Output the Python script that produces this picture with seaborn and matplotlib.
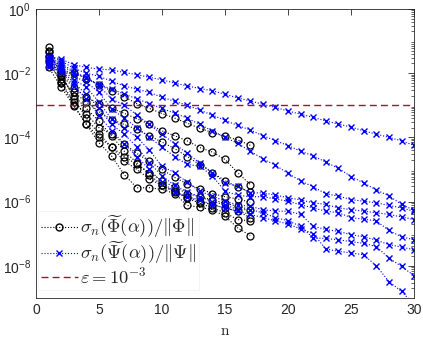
import numpy as np
import pandas as pd
import seaborn as sns
import matplotlib
matplotlib.use('Agg')
import matplotlib.pyplot as plt
from matplotlib.lines import Line2D
from matplotlib.ticker import FixedLocator, FixedFormatter, LogLocator, NullFormatter

# exponents (log10)
n_phi = list(range(1, 18))
phi_1 = [-1.2, -1.94, -2.0, -2.17, -2.37, -2.55, -2.74, -2.95, -3.1, -3.26, -3.4, -3.56, -3.72, -3.85, -3.97, -4.08, -4.25]
phi_2 = [-1.3, -2.06, -2.45, -2.75, -2.95, -3.1, -3.25, -3.42, -3.59, -3.8, -3.95, -4.11, -4.32, -4.46, -4.69, -5.1, -5.47]
phi_3 = [-1.47, -2.19, -2.6, -2.9, -3.2, -3.45, -3.6, -3.75, -3.95, -4.15, -4.35, -4.6, -4.85, -5.1, -5.35, -5.55, -5.7]
phi_4 = [-1.66, -2.28, -2.9, -3.28, -3.7, -3.9, -4.2, -4.5, -4.75, -5.0, -5.25, -5.45, -5.6, -5.75, -5.85, -5.92, -6.02]
phi_5 = [-1.81, -2.44, -3.02, -3.59, -4.0, -4.3, -4.6, -4.84, -5.1, -5.35, -5.55, -5.75, -5.85, -5.95, -6.05, -6.15, -6.25]
phi_6 = [-1.5, -2.1, -2.7, -3.1, -3.5, -3.95, -4.43, -4.79, -5.16, -5.5, -5.7, -5.85, -6.0, -6.1, -6.2, -6.3, -6.5]
phi_7 = [-1.35, -2.0, -2.8, -3.4, -3.9, -4.3, -4.74, -5.0, -5.3, -5.5, -5.68, -5.9, -6.05, -6.2, -6.35, -6.56, -6.6]
phi_8 = [-1.6, -2.3, -3.0, -3.6, -4.17, -4.58, -5.16, -5.57, -5.57, -5.62, -5.75, -6.12, -6.18, -6.25, -6.46, -6.82, -7.06]

n_psi = list(range(1, 31))
psi_1 = [-1.47, -1.56, -1.74, -1.82, -1.875, -1.9, -1.98, -2.05, -2.13, -2.21, -2.31, -2.4, -2.48, -2.55, -2.66,
         -2.77, -2.87, -2.97, -3.07, -3.18, -3.28, -3.38, -3.49, -3.59, -3.68, -3.8, -3.9, -4.0, -4.11, -4.25]
psi_2 = [-1.5, -1.62, -1.85, -2.0, -2.1, -2.25, -2.4, -2.5, -2.6, -2.75, -2.88, -3.0, -3.15, -3.31, -3.47,
         -3.63, -3.77, -3.95, -4.1, -4.26, -4.43, -4.58, -4.77, -4.97, -5.22, -5.42, -5.64, -5.82, -6.09, -6.27]
psi_3 = [-1.55, -1.7, -1.95, -2.15, -2.35, -2.5, -2.65, -2.8, -2.95, -3.1, -3.25, -3.4, -3.6, -3.8, -4.0,
         -4.19, -4.43, -4.67, -4.87, -5.12, -5.36, -5.54, -5.76, -5.83, -5.94, -5.99, -6.04, -6.12, -6.2, -6.3]
psi_4 = [-1.6, -1.75, -2.0, -2.13, -2.4, -2.8, -3.0, -3.3, -3.6, -3.9, -4.2, -4.5, -4.8, -5.1, -5.42,
         -5.52, -5.73, -5.73, -5.8, -5.88, -5.95, -6.04, -6.09, -6.2, -6.25, -6.3, -6.35, -6.4, -6.48, -6.56]
psi_5 = [-1.65, -1.8, -2.1, -2.28, -2.6, -3.12, -3.4, -3.7, -4.0, -4.3, -4.6, -4.84, -4.9, -5.2, -5.68,
         -5.8, -5.85, -5.85, -5.92, -5.99, -6.1, -6.2, -6.3, -6.35, -6.5, -6.55, -6.6, -6.9, -7.1, -7.19]
psi_6 = [-1.7, -1.85, -2.2, -2.44, -2.9, -3.44, -3.7, -4.0, -4.4, -4.9, -5.1, -5.4, -5.68, -5.83, -5.99,
         -6.1, -6.15, -6.25, -6.3, -6.3, -6.4, -6.77, -6.87, -6.93, -7.03, -7.1, -7.2, -7.34, -7.42, -7.5]
psi_7 = [-1.75, -1.9, -2.3, -2.66, -3.1, -3.6, -3.9, -4.3, -4.79, -5.2, -5.5, -5.7, -5.85, -6.0, -6.1,
         -6.25, -6.25, -6.35, -6.5, -6.6, -6.77, -7.13, -7.15, -7.19, -7.25, -7.3, -7.4, -7.76, -8.02, -8.31]
psi_8 = [-1.8, -1.95, -2.4, -2.81, -3.3, -3.8, -4.2, -4.6, -5.0, -5.4, -5.7, -5.85, -5.95, -6.1, -6.2,
         -6.3, -6.4, -6.5, -6.6, -6.7, -6.85, -7.0, -7.48, -7.55, -7.6, -7.66, -8.0, -8.49, -8.8, -9.2]

eps = 1e-3

phi_all = [phi_1, phi_2, phi_3, phi_4, phi_5, phi_6, phi_7, phi_8]
psi_all = [psi_1, psi_2, psi_3, psi_4, psi_5, psi_6, psi_7, psi_8]

rows = []
for k, s in enumerate(phi_all):
    for n, v in zip(n_phi, s):
        rows.append(('phi', k, n, 10.0 ** v))
for k, s in enumerate(psi_all):
    for n, v in zip(n_psi, s):
        rows.append(('psi', k, n, 10.0 ** v))
df = pd.DataFrame(rows, columns=['fam', 'k', 'n', 'val'])

sns.set_style('white')
plt.rcParams['mathtext.fontset'] = 'cm'
plt.rcParams['font.family'] = ['Liberation Sans', 'DejaVu Sans']

fig = plt.figure(figsize=(4.23, 3.42), dpi=100)
ax = fig.add_axes([0.085, 0.129, 0.894, 0.845])

for k in range(len(phi_all)):
    d = df[(df['fam'] == 'phi') & (df['k'] == k)]
    sns.lineplot(data=d, x='n', y='val', ax=ax, color='black', linestyle=':', linewidth=0.8,
                 marker='o', markersize=5, markerfacecolor='none', markeredgecolor='black',
                 markeredgewidth=0.9, estimator=None, sort=False, legend=False)
for k in range(len(psi_all)):
    d = df[(df['fam'] == 'psi') & (df['k'] == k)]
    sns.lineplot(data=d, x='n', y='val', ax=ax, color='blue', linestyle=':', linewidth=0.8,
                 marker='x', markersize=4.5, markeredgecolor='blue', markeredgewidth=1.0,
                 estimator=None, sort=False, legend=False)

red = (0.635, 0.078, 0.184)
ax.plot([0, 30], [eps, eps], linestyle=(0, (5, 3)), color=red, linewidth=1.0)

ax.set_yscale('log')
ax.set_xlim(0, 30)
ax.set_ylim(1e-9, 1e0)
ax.set_xticks([0, 5, 10, 15, 20, 25, 30])
ax.yaxis.set_major_locator(FixedLocator([1e-8, 1e-6, 1e-4, 1e-2, 1e0]))
ax.yaxis.set_major_formatter(FixedFormatter([r'$\mathregular{10^{-8}}$', r'$\mathregular{10^{-6}}$',
                                             r'$\mathregular{10^{-4}}$', r'$\mathregular{10^{-2}}$',
                                             r'$\mathregular{10^{0}}$']))
ax.yaxis.set_minor_locator(LogLocator(base=10, subs=np.arange(2, 10), numticks=20))
ax.yaxis.set_minor_formatter(NullFormatter())
ax.tick_params(axis='both', which='both', direction='in', top=True, right=True, labelsize=10, colors='#262626')
ax.tick_params(axis='both', which='major', length=4, width=0.6)
ax.tick_params(axis='y', which='minor', length=2, width=0.5)
for sp in ax.spines.values():
    sp.set_color('#262626')
    sp.set_linewidth(0.6)
ax.set_xlabel(r'$\mathrm{n}$', fontsize=11, labelpad=5)
ax.set_ylabel('')

handles = [
    Line2D([], [], color='black', linestyle=':', linewidth=0.8, marker='o', markersize=5,
           markerfacecolor='none', markeredgecolor='black'),
    Line2D([], [], color='blue', linestyle=':', linewidth=0.8, marker='x', markersize=4.5,
           markeredgecolor='blue'),
    Line2D([], [], color=red, linestyle=(0, (5, 3)), linewidth=1.0),
]
labels = [r'$\sigma_n(\widetilde{\Phi}(\alpha))/\|\Phi\|$',
          r'$\sigma_n(\widetilde{\Psi}(\alpha))/\|\Psi\|$',
          r'$\varepsilon = 10^{-3}$']
leg = ax.legend(handles, labels, loc='lower left', bbox_to_anchor=(0.005, 0.028), fontsize=13.3,
                frameon=True, fancybox=False, edgecolor='#f0f0f0', handlelength=2.0,
                handletextpad=0.15, borderpad=0.15, labelspacing=0.0, borderaxespad=0.0)
leg.get_frame().set_linewidth(0.6)

fig.savefig('out.png', dpi=100)
